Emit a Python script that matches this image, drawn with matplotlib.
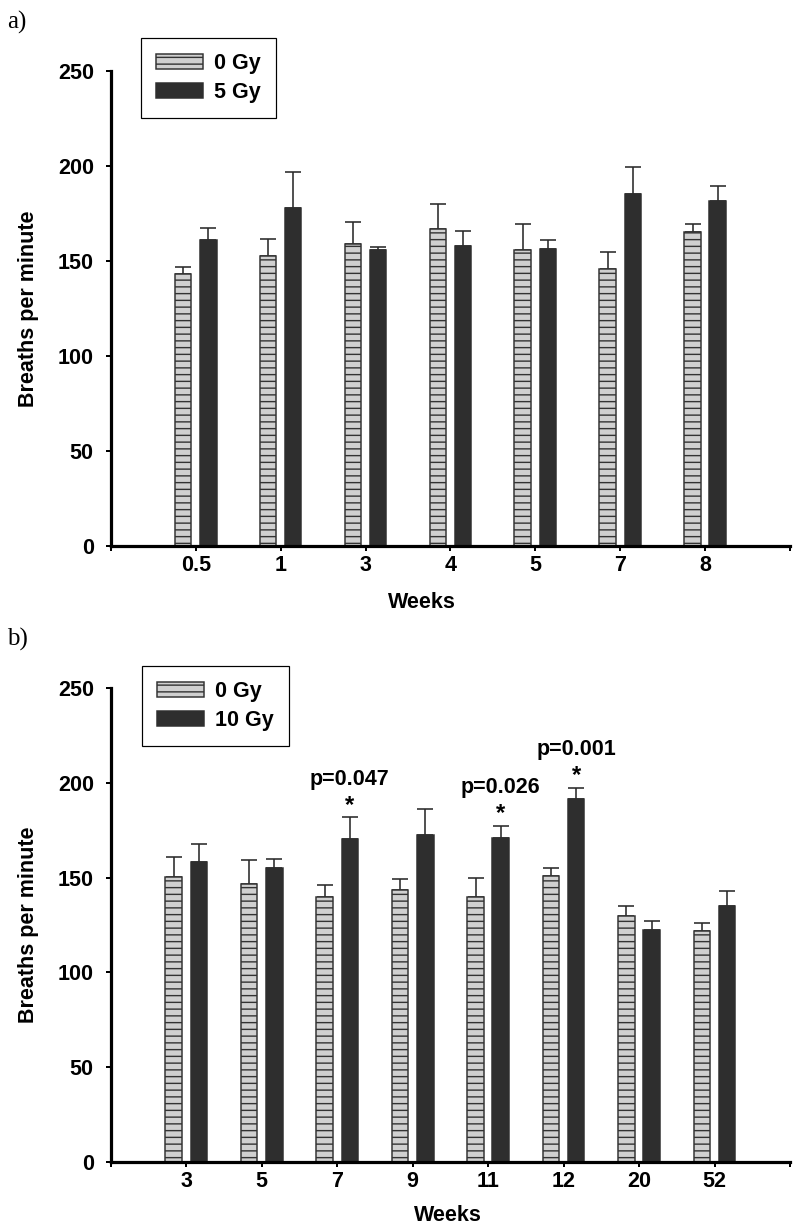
import matplotlib
matplotlib.use('Agg')
import matplotlib.pyplot as plt
import numpy as np

DPI = 81

def pt(px):
    # convert pixels to points at the chosen dpi
    return px * 72.0 / DPI

# panel a data (breaths per minute, mean and upper SE)
weeks_a = ['0.5', '1', '3', '4', '5', '7', '8']
ctrl_a = [143.3, 152.5, 158.8, 166.5, 155.6, 145.6, 165.1]
ctrl_a_err = [3.7, 8.9, 11.4, 13.3, 14.0, 9.1, 4.5]
dose_a = [160.7, 177.7, 155.8, 158.0, 156.1, 185.1, 181.6]
dose_a_err = [6.5, 18.8, 1.7, 7.8, 4.6, 14.0, 7.5]

# panel b data
weeks_b = ['3', '5', '7', '9', '11', '12', '20', '52']
ctrl_b = [150.5, 146.5, 139.6, 143.5, 139.8, 150.9, 130.0, 122.1]
ctrl_b_err = [10.5, 13.0, 6.5, 5.6, 9.7, 4.2, 5.1, 4.0]
dose_b = [158.0, 155.0, 170.2, 172.4, 170.9, 191.2, 122.3, 134.9]
dose_b_err = [9.5, 4.8, 11.5, 13.7, 6.5, 6.0, 4.7, 7.9]
pvals_b = {'7': 'p=0.047', '11': 'p=0.026', '12': 'p=0.001'}

plt.rcParams['font.family'] = ['Liberation Sans', 'DejaVu Sans']
plt.rcParams['font.weight'] = 'bold'
plt.rcParams['hatch.linewidth'] = pt(1.4)

FS = pt(21.5)
LIGHT = '#d0d0d0'
DARK = '#2e2e2e'
EDGE = '#333333'

W, H = 800, 1230
fig = plt.figure(figsize=(W / DPI, H / DPI), dpi=DPI)


def panel(rect, weeks, ctrl, ctrl_err, dose, dose_err, dose_label,
          legend_xy, xlabel_x, xlabel_y, pvals=None):
    ax = fig.add_axes(rect)
    n = len(weeks)
    x = np.arange(1, n + 1)
    axis_px = rect[2] * W
    unit = axis_px / (n + 1)
    bw = 16.5 / unit
    off = 12.6 / unit

    ax.bar(x - off, ctrl, bw, color=LIGHT, edgecolor=EDGE, linewidth=pt(1.5),
           hatch='--', label='0 Gy', zorder=2)
    ax.bar(x + off, dose, bw, color=DARK, edgecolor=DARK, linewidth=pt(1.5),
           label=dose_label, zorder=2)
    for xs, ys, es in [(x - off, ctrl, ctrl_err), (x + off, dose, dose_err)]:
        ax.errorbar(xs, ys, yerr=[np.zeros(n), es], fmt='none', ecolor='#2a2a2a',
                    elinewidth=pt(1.6), capsize=pt(7.8), capthick=pt(1.6), zorder=1)

    if pvals:
        for i, w in enumerate(weeks):
            if w in pvals:
                top = dose[i] + dose_err[i]
                ax.annotate('*', xy=(x[i] + off, top), xytext=(0, pt(12)),
                            textcoords='offset points', ha='center', va='center',
                            fontsize=pt(24), fontweight='bold')
                ax.annotate(pvals[w], xy=(x[i] + off, top), xytext=(0, pt(38)),
                            textcoords='offset points', ha='center', va='center',
                            fontsize=FS, fontweight='bold')

    ax.set_xlim(0, n + 1)
    ax.set_ylim(0, 250)
    ax.set_xticks(np.arange(0, n + 2))
    ax.set_xticklabels([''] + weeks + [''])
    ax.set_yticks(np.arange(0, 251, 50))
    for s in ['top', 'right']:
        ax.spines[s].set_visible(False)
    for s in ['left', 'bottom']:
        ax.spines[s].set_linewidth(pt(3.2))
    ax.tick_params(axis='both', direction='out', length=pt(5), width=pt(2),
                   labelsize=FS)
    ax.tick_params(axis='y', pad=pt(12))
    ax.tick_params(axis='x', pad=pt(4))
    for lab in ax.get_xticklabels() + ax.get_yticklabels():
        lab.set_fontweight('bold')

    ax.set_ylabel('Breaths per minute', fontsize=FS, fontweight='bold')
    ax.yaxis.set_label_coords((39 - rect[0] * W) / axis_px, 0.5)
    ax.set_xlabel('Weeks', fontsize=FS, fontweight='bold')
    ax.xaxis.set_label_coords(xlabel_x, xlabel_y)

    leg = ax.legend(loc='upper left', bbox_to_anchor=legend_xy,
                    bbox_transform=fig.transFigure, borderaxespad=0,
                    fontsize=FS, handlelength=2.2, handleheight=0.68,
                    handletextpad=0.5, borderpad=0.7, labelspacing=0.36,
                    fancybox=False, framealpha=1, edgecolor='black')
    leg.get_frame().set_linewidth(pt(1.2))
    for t in leg.get_texts():
        t.set_fontweight('bold')
    return ax


left = 110.8 / W
width = (790 - 110.8) / W

# panel a: axis from y=70.7 (250) to y=546 (0)
panel([left, 1 - 546 / H, width, (546 - 70.7) / H],
      weeks_a, ctrl_a, ctrl_a_err, dose_a, dose_a_err, '5 Gy',
      (140.7 / W, 1 - 38.3 / H), (421.7 - 110.8) / (790 - 110.8), -0.097)

# panel b: axis from y=687.7 (250) to y=1162.3 (0)
panel([left, 1 - 1162.3 / H, width, (1162.3 - 687.7) / H],
      weeks_b, ctrl_b, ctrl_b_err, dose_b, dose_b_err, '10 Gy',
      (141.7 / W, 1 - 666 / H), (448 - 110.8) / (790 - 110.8), -0.09,
      pvals=pvals_b)

fig.text(7 / W, 1 - 22.5 / H, 'a)', family='Liberation Serif', fontweight='normal',
         fontsize=pt(25), ha='left', va='center')
fig.text(7 / W, 1 - 639.5 / H, 'b)', family='Liberation Serif', fontweight='normal',
         fontsize=pt(25), ha='left', va='center')

fig.savefig('out.png', dpi=DPI)
